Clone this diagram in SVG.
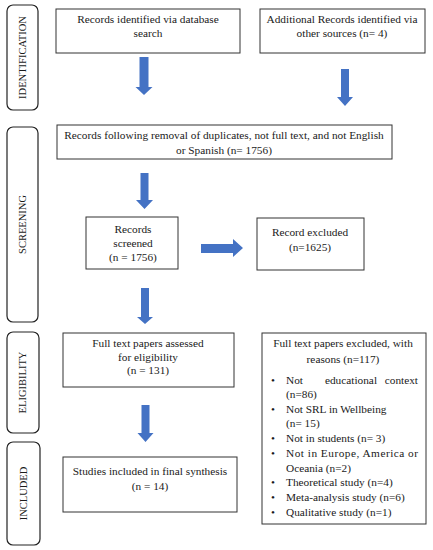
<svg xmlns="http://www.w3.org/2000/svg" width="433" height="550" viewBox="0 0 433 550">
<style>
.box{fill:#fff;stroke:#333;stroke-width:1}
.side{fill:#fff;stroke:#222;stroke-width:1.2}
text{font-family:"Liberation Serif","Times New Roman",serif;font-size:11.3px;fill:#1a1a1a}
.c{text-anchor:middle}
.v{font-size:10.5px;text-anchor:middle}
.arr{fill:#4472C4}
</style>
<rect width="433" height="550" fill="#fff"/>
<g id="stage-identification"><rect class="side" x="7" y="5" width="31" height="105" rx="6"/><text class="v" transform="translate(26,57.5) rotate(-90)">IDENTIFICATION</text></g>
<g id="stage-screening"><rect class="side" x="7" y="127" width="31" height="195" rx="6"/><text class="v" transform="translate(26,224.5) rotate(-90)">SCREENING</text></g>
<g id="stage-eligibility"><rect class="side" x="7" y="332" width="32" height="101" rx="6"/><text class="v" transform="translate(26,382.5) rotate(-90)">ELIGIBILITY</text></g>
<g id="stage-included"><rect class="side" x="7" y="442" width="33" height="103" rx="6"/><text class="v" transform="translate(27,493.5) rotate(-90)">INCLUDED</text></g>

<g id="n1"><rect class="box" x="56" y="9" width="184" height="44"/><text class="c" x="148" y="23">Records identified via database</text><text class="c" x="148" y="37">search</text></g>
<g id="n2"><rect class="box" x="260" y="9" width="165" height="44"/><text class="c" x="342" y="23">Additional Records identified via</text><text class="c" x="342" y="37">other sources (n= 4)</text></g>
<g id="n3"><rect class="box" x="57" y="125" width="335" height="34"/><text class="c" x="224" y="139">Records following removal of duplicates, not full text, and not English</text><text class="c" x="224" y="154">or Spanish (n= 1756)</text></g>
<g id="n4"><rect class="box" x="86" y="217" width="92" height="52"/><text class="c" x="133" y="233">Records</text><text class="c" x="133" y="247">screened</text><text class="c" x="133" y="261">(n = 1756)</text></g>
<g id="n5"><rect class="box" x="257" y="218" width="107" height="52"/><text class="c" x="310" y="236">Record excluded</text><text class="c" x="310" y="251">(n=1625)</text></g>
<g id="n6"><rect class="box" x="63" y="333" width="171" height="54"/><text class="c" x="148" y="347">Full text papers assessed</text><text class="c" x="148" y="361">for eligibility</text><text class="c" x="148" y="374">(n = 131)</text></g>
<g id="n7"><rect class="box" x="262" y="333" width="164" height="191"/>
<text class="c" x="343" y="347">Full text papers excluded, with</text><text class="c" x="343" y="363">reasons (n=117)</text>
<g id="bullets">
<text x="271" y="384">•</text><text x="286" y="384">Not</text><text x="351" y="384" class="c">educational</text><text x="418" y="384" text-anchor="end">context</text>
<text x="286" y="398">(n=86)</text>
<text x="271" y="413">•</text><text x="286" y="413">Not SRL in Wellbeing</text>
<text x="286" y="427">(n= 15)</text>
<text x="271" y="442">•</text><text x="286" y="442">Not in students (n= 3)</text>
<text x="271" y="457">•</text><text x="286" y="457" textLength="132" lengthAdjust="spacing">Not in Europe, America or</text>
<text x="286" y="472">Oceania (n=2)</text>
<text x="271" y="486">•</text><text x="286" y="486">Theoretical study (n=4)</text>
<text x="271" y="501">•</text><text x="286" y="501">Meta-analysis study (n=6)</text>
<text x="271" y="516">•</text><text x="286" y="516">Qualitative study (n=1)</text>
</g></g>
<g id="n8"><rect class="box" x="63" y="457" width="174" height="55"/><text class="c" x="150" y="475">Studies included in final synthesis</text><text class="c" x="150" y="490">(n = 14)</text></g>

<g id="connectors" class="arr">
<polygon points="139.5,57 148.5,57 148.5,87 152.5,87 144,95 135.5,87 139.5,87"/>
<polygon points="341,69 349,69 349,97 353,97 345,106 337,97 341,97"/>
<polygon points="140.5,173 148.5,173 148.5,200 153,200 144.5,209 136,200 140.5,200"/>
<polygon points="201,244 233,244 233,239 243,248 233,257 233,253 201,253"/>
<polygon points="141,288 149,288 149,317 153,317 145,324 137,317 141,317"/>
<polygon points="141.5,405 149.5,405 149.5,433 153.5,433 145.5,442 137.5,433 141.5,433"/>
</g>
</svg>
